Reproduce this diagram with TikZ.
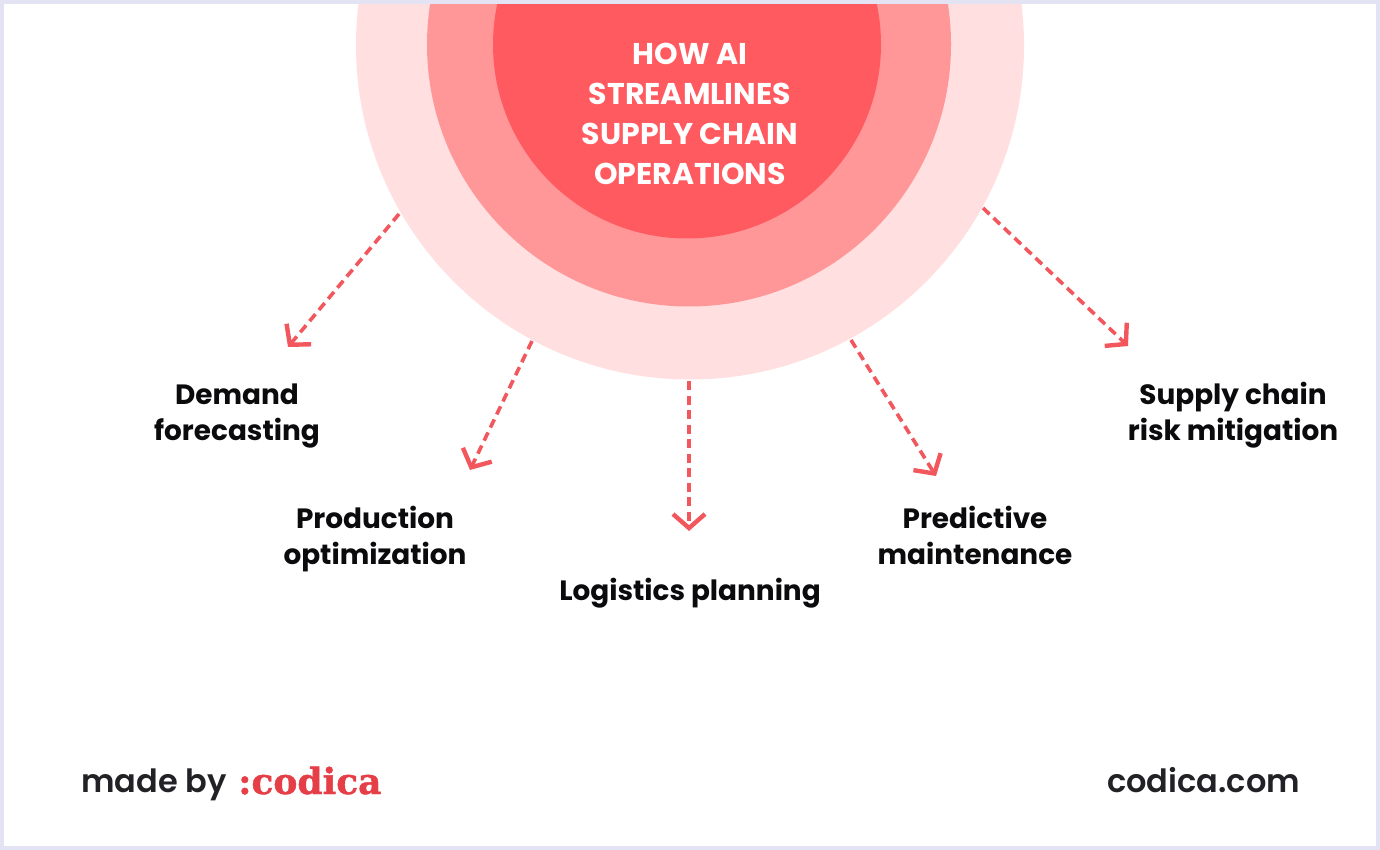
\documentclass[tikz,border=0pt]{standalone}
\usepackage{fontspec}
\usetikzlibrary{arrows.meta}
\setmainfont{Poppins}
\newfontfamily\medfont{Poppins SemiBold}
\newfontfamily\logofont[FakeBold=1.2]{DejaVu Serif Bold}
\definecolor{frameC}{HTML}{E3E3F3}
\definecolor{ringA}{HTML}{FFDFDF}
\definecolor{ringB}{HTML}{FF9799}
\definecolor{ringC}{HTML}{FF5A60}
\definecolor{arrowC}{HTML}{F2575D}
\definecolor{logoC}{HTML}{E63E46}
\definecolor{inkC}{HTML}{0B0B0D}
\definecolor{footC}{HTML}{222226}
\tikzset{
  x=1pt,y=-1pt,
  ring/.style={circle,inner sep=0pt,outer sep=0pt},
  flow/.style={draw=arrowC,line width=3.6pt,dash pattern=on 9pt off 5.5pt,-{Straight Barb[length=14pt,width=32pt,line width=4.4pt]}},
  lab/.style={font=\bfseries\fontsize{27.9}{35.5}\selectfont,text=inkC,align=center,inner sep=0pt},
  title/.style={font=\bfseries\fontsize{30}{40}\selectfont,text=white,align=center,inner sep=0pt},
  foot/.style={font=\medfont\fontsize{32}{36}\selectfont,text=footC,inner sep=0pt,anchor=base west},
}
\begin{document}
\begin{tikzpicture}
\useasboundingbox (0,0) rectangle (1380,850);
\fill[white] (0,0) rectangle (1380,850);
\begin{scope}
\clip (4,4) rectangle (1376,846);
\node[ring,fill=ringA,minimum size=668pt] (outer) at (690,45.5) {};
\node[ring,fill=ringB,minimum size=524pt] (middle) at (689,44.5) {};
\node[ring,fill=ringC,minimum size=388pt] (inner) at (687,44.5) {};
\end{scope}
\draw[frameC,line width=4pt] (2,2) rectangle (1378,848);
\node[title] (ttl) at (690,114) {HOW AI\\STREAMLINES\\SUPPLY CHAIN\\OPERATIONS};
\node[lab] (n1) at (237,416) {Demand\\forecasting};
\node[lab] (n2) at (375,539) {Production\\optimization};
\node[lab] (n3) at (690,593) {Logistics planning};
\node[lab] (n4) at (975,535.5) {Predictive\\maintenance};
\node[lab] (n5) at (1233,415) {Supply chain\\risk mitigation};
\coordinate (a1) at (399,214);
\coordinate (b1) at (288,347);
\coordinate (a2) at (532,341);
\coordinate (b2) at (470,470);
\coordinate (a3) at (689,381);
\coordinate (b3) at (689,531);
\coordinate (a4) at (851,340);
\coordinate (b4) at (936,476);
\coordinate (a5) at (983,208);
\coordinate (b5) at (1128,346);
\draw[flow] (a1) -- (b1);
\draw[flow] (a2) -- (b2);
\draw[flow] (a3) -- (b3);
\draw[flow] (a4) -- (b4);
\draw[flow] (a5) -- (b5);
\node[foot] (made) at (81,792) {made by};
\node[font=\logofont\fontsize{36}{36}\selectfont,text=logoC,inner sep=0pt,anchor=base west] (logo) at (238,794) {:codica};
\node[foot] (site) at (1107,792) {codica.com};
\end{tikzpicture}
\end{document}
